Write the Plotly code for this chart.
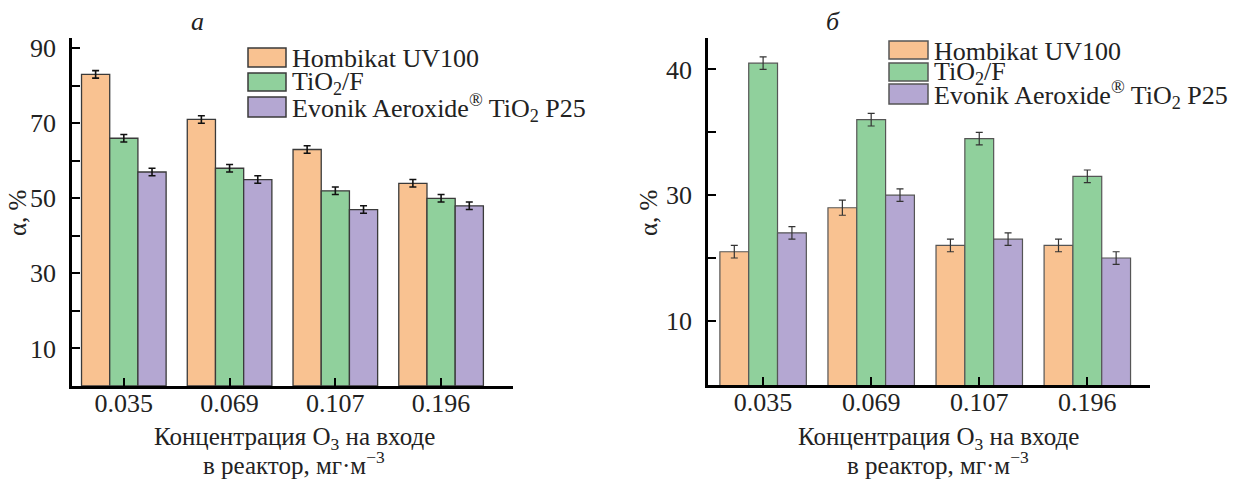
import plotly.graph_objects as go

W, H = 1239, 479

# ---------------- data ----------------
categories = ["0.035", "0.069", "0.107", "0.196"]
series_names = ["Hombikat UV100", "TiO<sub>2</sub>/F", "Evonik Aeroxide<sup>®</sup> TiO<sub>2</sub> P25"]
colors = ["#F9C291", "#90D09C", "#B4A7D2"]

# panel a
a_hombikat = [83, 71, 63, 54]
a_tio2f = [66, 58, 52, 50]
a_evonik = [57, 55, 47, 48]
a_err_hombikat = [1, 1, 1, 1]
a_err_tio2f = [1, 1, 1, 1]
a_err_evonik = [1, 1, 1, 1]
a_tickvals = [10, 20, 30, 40, 50, 60, 70, 80, 90]
a_ticktext = ["10", " ", "30", " ", "50", " ", "70", " ", "90"]

# panel б
b_hombikat = [25.5, 29.0, 26.0, 26.0]
b_tio2f = [40.5, 36.0, 34.5, 31.5]
b_evonik = [27.0, 30.0, 26.5, 25.0]
b_err_hombikat = [0.5, 0.6, 0.5, 0.5]
b_err_tio2f = [0.5, 0.5, 0.5, 0.5]
b_err_evonik = [0.5, 0.5, 0.5, 0.5]
b_tickvals = [20, 25, 30, 35, 40]
b_ticktext = ["10", " ", "30", " ", "40"]

FONT = "Liberation Serif"
TXT = "#222222"


def px(x):
    return x / W


def py(y):
    return 1 - y / H


fig = go.Figure()

a_vals = [a_hombikat, a_tio2f, a_evonik]
a_errs = [a_err_hombikat, a_err_tio2f, a_err_evonik]
b_vals = [b_hombikat, b_tio2f, b_evonik]
b_errs = [b_err_hombikat, b_err_tio2f, b_err_evonik]

for i in range(3):
    fig.add_trace(go.Bar(
        x=categories, y=a_vals[i], name=series_names[i], xaxis="x", yaxis="y",
        marker=dict(color=colors[i], line=dict(color="#3a3a3a", width=1.3)),
        error_y=dict(type="data", array=a_errs[i], color="#111111", thickness=1.6, width=3.5),
        offsetgroup=str(i), showlegend=False))
for i in range(3):
    fig.add_trace(go.Bar(
        x=categories, y=b_vals[i], name=series_names[i], xaxis="x2", yaxis="y2",
        marker=dict(color=colors[i], line=dict(color="#555555", width=1.2)),
        error_y=dict(type="data", array=b_errs[i], color="#333333", thickness=1.2, width=3.5),
        offsetgroup=str(i), showlegend=False))

axis_common = dict(showline=True, linecolor="black", linewidth=2.5, ticks="inside",
                   ticklen=8, tickwidth=2, tickcolor="black", showgrid=False, zeroline=False,
                   automargin=False, layer="above traces",
                   tickfont=dict(family=FONT, size=26, color=TXT))

fig.update_layout(
    width=W, height=H, margin=dict(l=0, r=0, t=0, b=0),
    paper_bgcolor="white", plot_bgcolor="white",
    barmode="group", bargap=0.2, bargroupgap=0,
    showlegend=False,
    xaxis=dict(domain=[px(72), px(513)], anchor="y", type="category",
               range=[-0.49, 3.68], ticklabelstandoff=-8, **axis_common),
    yaxis=dict(domain=[py(386), py(38)], anchor="x", range=[0, 92.7],
               tickvals=a_tickvals, ticktext=a_ticktext, ticklabelstandoff=8, **axis_common),
    xaxis2=dict(domain=[px(708), px(1150)], anchor="y2", type="category",
                range=[-0.51, 3.58], ticklabelstandoff=-8, **axis_common),
    yaxis2=dict(domain=[py(385), py(38)], anchor="x2", range=[14.9, 42.5],
                tickvals=b_tickvals, ticktext=b_ticktext, ticklabelstandoff=8, **axis_common),
)

annotations = []
shapes = []


def note(x, y, text, size=25, xanchor="center", angle=0, italic=False):
    annotations.append(dict(x=px(x), y=py(y), xref="paper", yref="paper", text=text,
                            xanchor=xanchor, yanchor="middle", textangle=angle,
                            showarrow=False,
                            font=dict(family=FONT, size=size, color=TXT,
                                      style="italic" if italic else "normal")))


# panel titles
note(197, 22, "а", size=26, italic=True)
note(833, 22, "б", size=26, italic=True)

# axis titles
for cx, ycx in [(294, 17), (938, 648)]:
    note(cx, 438, "Концентрация O<sub>3</sub> на входе")
    note(cx, 463, "в реактор, мг·м<sup>−3</sup>")
    note(ycx, 213, "α, %", angle=-90)

# legends
legend_specs = [
    (248, 286, 290, [(48, 67), (73, 91), (97, 117)], "#3a3a3a"),
    (889, 928, 932, [(41, 59), (63, 81), (84, 104)], "#555555"),
]
for x0, x1, tx, rows, lc in legend_specs:
    for i, (y0, y1) in enumerate(rows):
        shapes.append(dict(type="rect", xref="paper", yref="paper",
                           x0=px(x0), x1=px(x1), y0=py(y1), y1=py(y0),
                           fillcolor=colors[i], line=dict(color=lc, width=1.5)))
        note(tx, (y0 + y1) / 2 + 1, series_names[i], size=26, xanchor="left")

fig.update_layout(annotations=annotations, shapes=shapes)
fig.write_html("out.html", config={"displayModeBar": False},
               post_script="document.body.style.margin='0px';document.body.style.padding='0px';")
